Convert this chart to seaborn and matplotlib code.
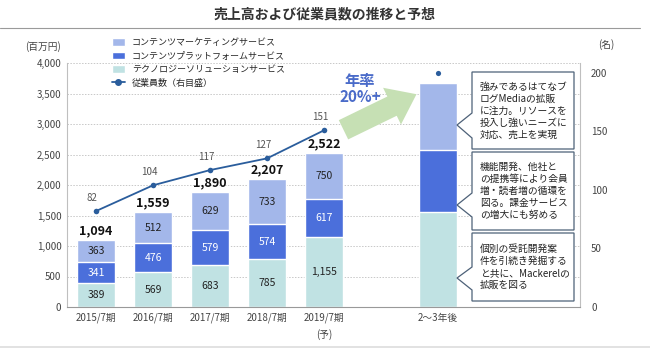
import matplotlib
matplotlib.use("Agg")
import matplotlib.pyplot as plt
import seaborn as sns
import pandas as pd
from matplotlib.patches import Patch, Polygon, FancyArrowPatch
from matplotlib.lines import Line2D

sns.set_theme(style="white")
plt.rcParams['font.family'] = ['Noto Sans CJK JP', 'DejaVu Sans']

# ---------------- data ----------------
categories = ['2015/7期', '2016/7期', '2017/7期', '2018/7期', '2019/7期', '2～3年後']
tech = [389, 569, 683, 785, 1155, 1557]
platform = [341, 476, 579, 574, 617, 1017]
marketing = [363, 512, 629, 733, 750, 1098]
total_labels = ['1,094', '1,559', '1,890', '2,207', '2,522']
employees = [82, 104, 117, 127, 151, 200]
left_ticks = [0, 500, 1000, 1500, 2000, 2500, 3000, 3500, 4000]
right_ticks = [0, 50, 100, 150, 200]
series_names = ['コンテンツマーケティングサービス', 'コンテンツプラットフォームサービス',
                'テクノロジーソリューションサービス', '従業員数（右目盛）']

c_mark = '#a3b7ea'
c_plat = '#4b6fdb'
c_tech = '#c0e2e3'
c_line = '#2a5d9c'

order = categories[:5] + [' '] + categories[5:]
df = pd.DataFrame({
    'cat': categories,
    'tech': tech,
    'tp': [a + b for a, b in zip(tech, platform)],
    'total': [a + b + c for a, b, c in zip(tech, platform, marketing)],
})
pos = [order.index(c) for c in categories]

W, H = 650, 349
fig = plt.figure(figsize=(6.5, 3.49), dpi=100)
ax = fig.add_axes([67 / W, 1 - 307 / H, 513 / W, 244 / H])

sns.barplot(data=df, x='cat', y='total', order=order, color=c_mark, width=0.67,
            saturation=1, ax=ax, zorder=2)
sns.barplot(data=df, x='cat', y='tp', order=order, color=c_plat, width=0.67,
            saturation=1, ax=ax, zorder=2)
sns.barplot(data=df, x='cat', y='tech', order=order, color=c_tech, width=0.67,
            saturation=1, ax=ax, zorder=2)

ax.set_xlim(-0.51, 8.49)
ax.set_ylim(0, 4000)
ax.set_yticks(left_ticks)
ax.set_yticklabels([f'{v:,}' for v in left_ticks], fontsize=7, color='#444444')
ax.set_xticks(pos)
xt = list(categories)
xt[4] = xt[4] + '\n(予)'
ax.set_xticklabels(xt, fontsize=7, color='#444444', linespacing=1.7)
ax.tick_params(axis='both', length=0, pad=4)
ax.set_xlabel('')
ax.set_ylabel('')
ax.set_axisbelow(True)
ax.yaxis.grid(True, linestyle=(0, (1.5, 1.5)), color='#c8c8c8', linewidth=0.7)
ax.spines['top'].set_visible(False)
ax.spines['left'].set_color('#bfbfbf')
ax.spines['bottom'].set_color('#999999')
ax.spines['right'].set_color('#bfbfbf')
for s in ['left', 'bottom', 'right']:
    ax.spines[s].set_linewidth(0.8)

# segment labels
for i in range(5):
    x = pos[i]
    ax.text(x, tech[i] / 2, f'{tech[i]:,}', ha='center', va='center', fontsize=7.5, color='#222222')
    ax.text(x, tech[i] + platform[i] / 2, f'{platform[i]:,}', ha='center', va='center',
            fontsize=7.5, color='white')
    ax.text(x, tech[i] + platform[i] + marketing[i] / 2, f'{marketing[i]:,}', ha='center',
            va='center', fontsize=7.5, color='#222222')
    ax.annotate(total_labels[i], (x, tech[i] + platform[i] + marketing[i]),
                xytext=(0, 2), textcoords='offset points', ha='center', va='bottom',
                fontsize=9, fontweight='bold', color='#111111', zorder=4)

# employees line
ax2 = ax.twinx()
sns.lineplot(x=pos[:5], y=employees[:5], ax=ax2, color=c_line, marker='o', markersize=4,
             markeredgewidth=0, linewidth=1.3)
sns.scatterplot(x=pos[5:], y=employees[5:], ax=ax2, color=c_line, s=14, linewidth=0)
ax2.set_ylim(0, 208.5)
ax2.set_yticks(right_ticks)
ax2.set_yticklabels([str(v) for v in right_ticks], fontsize=7, color='#444444')
ax2.tick_params(axis='y', length=0, pad=8)
ax2.set_xlim(-0.51, 8.49)
for s in ['top', 'left', 'bottom', 'right']:
    ax2.spines[s].set_visible(False)
ax2.grid(False)
for i in range(5):
    ax2.annotate(str(employees[i]), (pos[i], employees[i]), xytext=(-3, 6),
                 textcoords='offset points', ha='center', va='bottom', fontsize=7,
                 style='italic', color='#555555')

# title and frame lines
fig.text(325 / W, 1 - 15 / H, '売上高および従業員数の推移と予想', ha='center', va='center',
         fontsize=10, fontweight='bold', color='#333333')
fig.add_artist(Line2D([0, 640 / W], [1 - 28 / H, 1 - 28 / H], color='#9a9a9a', linewidth=0.8))
fig.add_artist(Line2D([0, 1], [1 - 347 / H, 1 - 347 / H], color='#dddddd', linewidth=1.2))
fig.text(25 / W, 1 - 47 / H, '(百万円)', ha='left', va='center', fontsize=7, color='#444444')
fig.text(598 / W, 1 - 45 / H, '(名)', ha='left', va='center', fontsize=7, color='#444444')

# legend
handles = [Patch(facecolor=c_mark), Patch(facecolor=c_plat), Patch(facecolor=c_tech),
           Line2D([], [], color=c_line, marker='o', markersize=4, linewidth=1.3)]
fig.legend(handles, series_names, loc='upper left', bbox_to_anchor=(112 / W, 1 - 38 / H),
           frameon=False, fontsize=6.5, handlelength=1.4, handleheight=0.9,
           labelspacing=0.5, handletextpad=0.8, borderpad=0, borderaxespad=0)

# growth arrow and label
arrow = FancyArrowPatch((341 / W, 1 - 131 / H), (419 / W, 1 - 93 / H),
                        transform=fig.transFigure,
                        arrowstyle='simple,head_length=1.4,head_width=2.1,tail_width=1.1',
                        mutation_scale=14, color='#c6e0b4', linewidth=0)
fig.add_artist(arrow)
fig.text(360 / W, 1 - 89 / H, '年率\n20%+', ha='center', va='center', fontsize=11,
         fontweight='bold', color='#4a6bc9', linespacing=1.0)

# callout boxes
tf = ax.transAxes
def fx(px):
    return (px - 67) / 513
def fy(py):
    return (307 - py) / 244

callouts = [
    (72, 149, 113, 138, 125, '強みであるはてなブ\nログMediaの拡販\nに注力。リソースを\n投入し強いニーズに\n対応、売上を実現'),
    (152, 230, 193, 217, 205, '機能開発、他社と\nの提携等により会員\n増・読者増の循環を\n図る。課金サービス\nの増大にも努める'),
    (233, 301, 267, 290, 278, '個別の受託開発案\n件を引続き発掘する\nと共に、Mackerelの\n拡販を図る'),
]
bx0, bx1, tipx = 472, 574, 457
for top, bot, b0, b1, tip, txt in callouts:
    pts = [(fx(bx0), fy(top)), (fx(bx1), fy(top)), (fx(bx1), fy(bot)), (fx(bx0), fy(bot)),
           (fx(bx0), fy(b1)), (fx(tipx), fy(tip)), (fx(bx0), fy(b0))]
    poly = Polygon(pts, closed=True, transform=tf, facecolor='white', edgecolor='#4d6178',
                   linewidth=0.9, zorder=5, clip_on=False)
    ax.add_patch(poly)
    ax.text(fx(480), fy((top + bot) / 2), txt, transform=tf, ha='left', va='center',
            fontsize=7.0, color='#222222', linespacing=1.25, zorder=6)

fig.savefig('out.png', dpi=100)
